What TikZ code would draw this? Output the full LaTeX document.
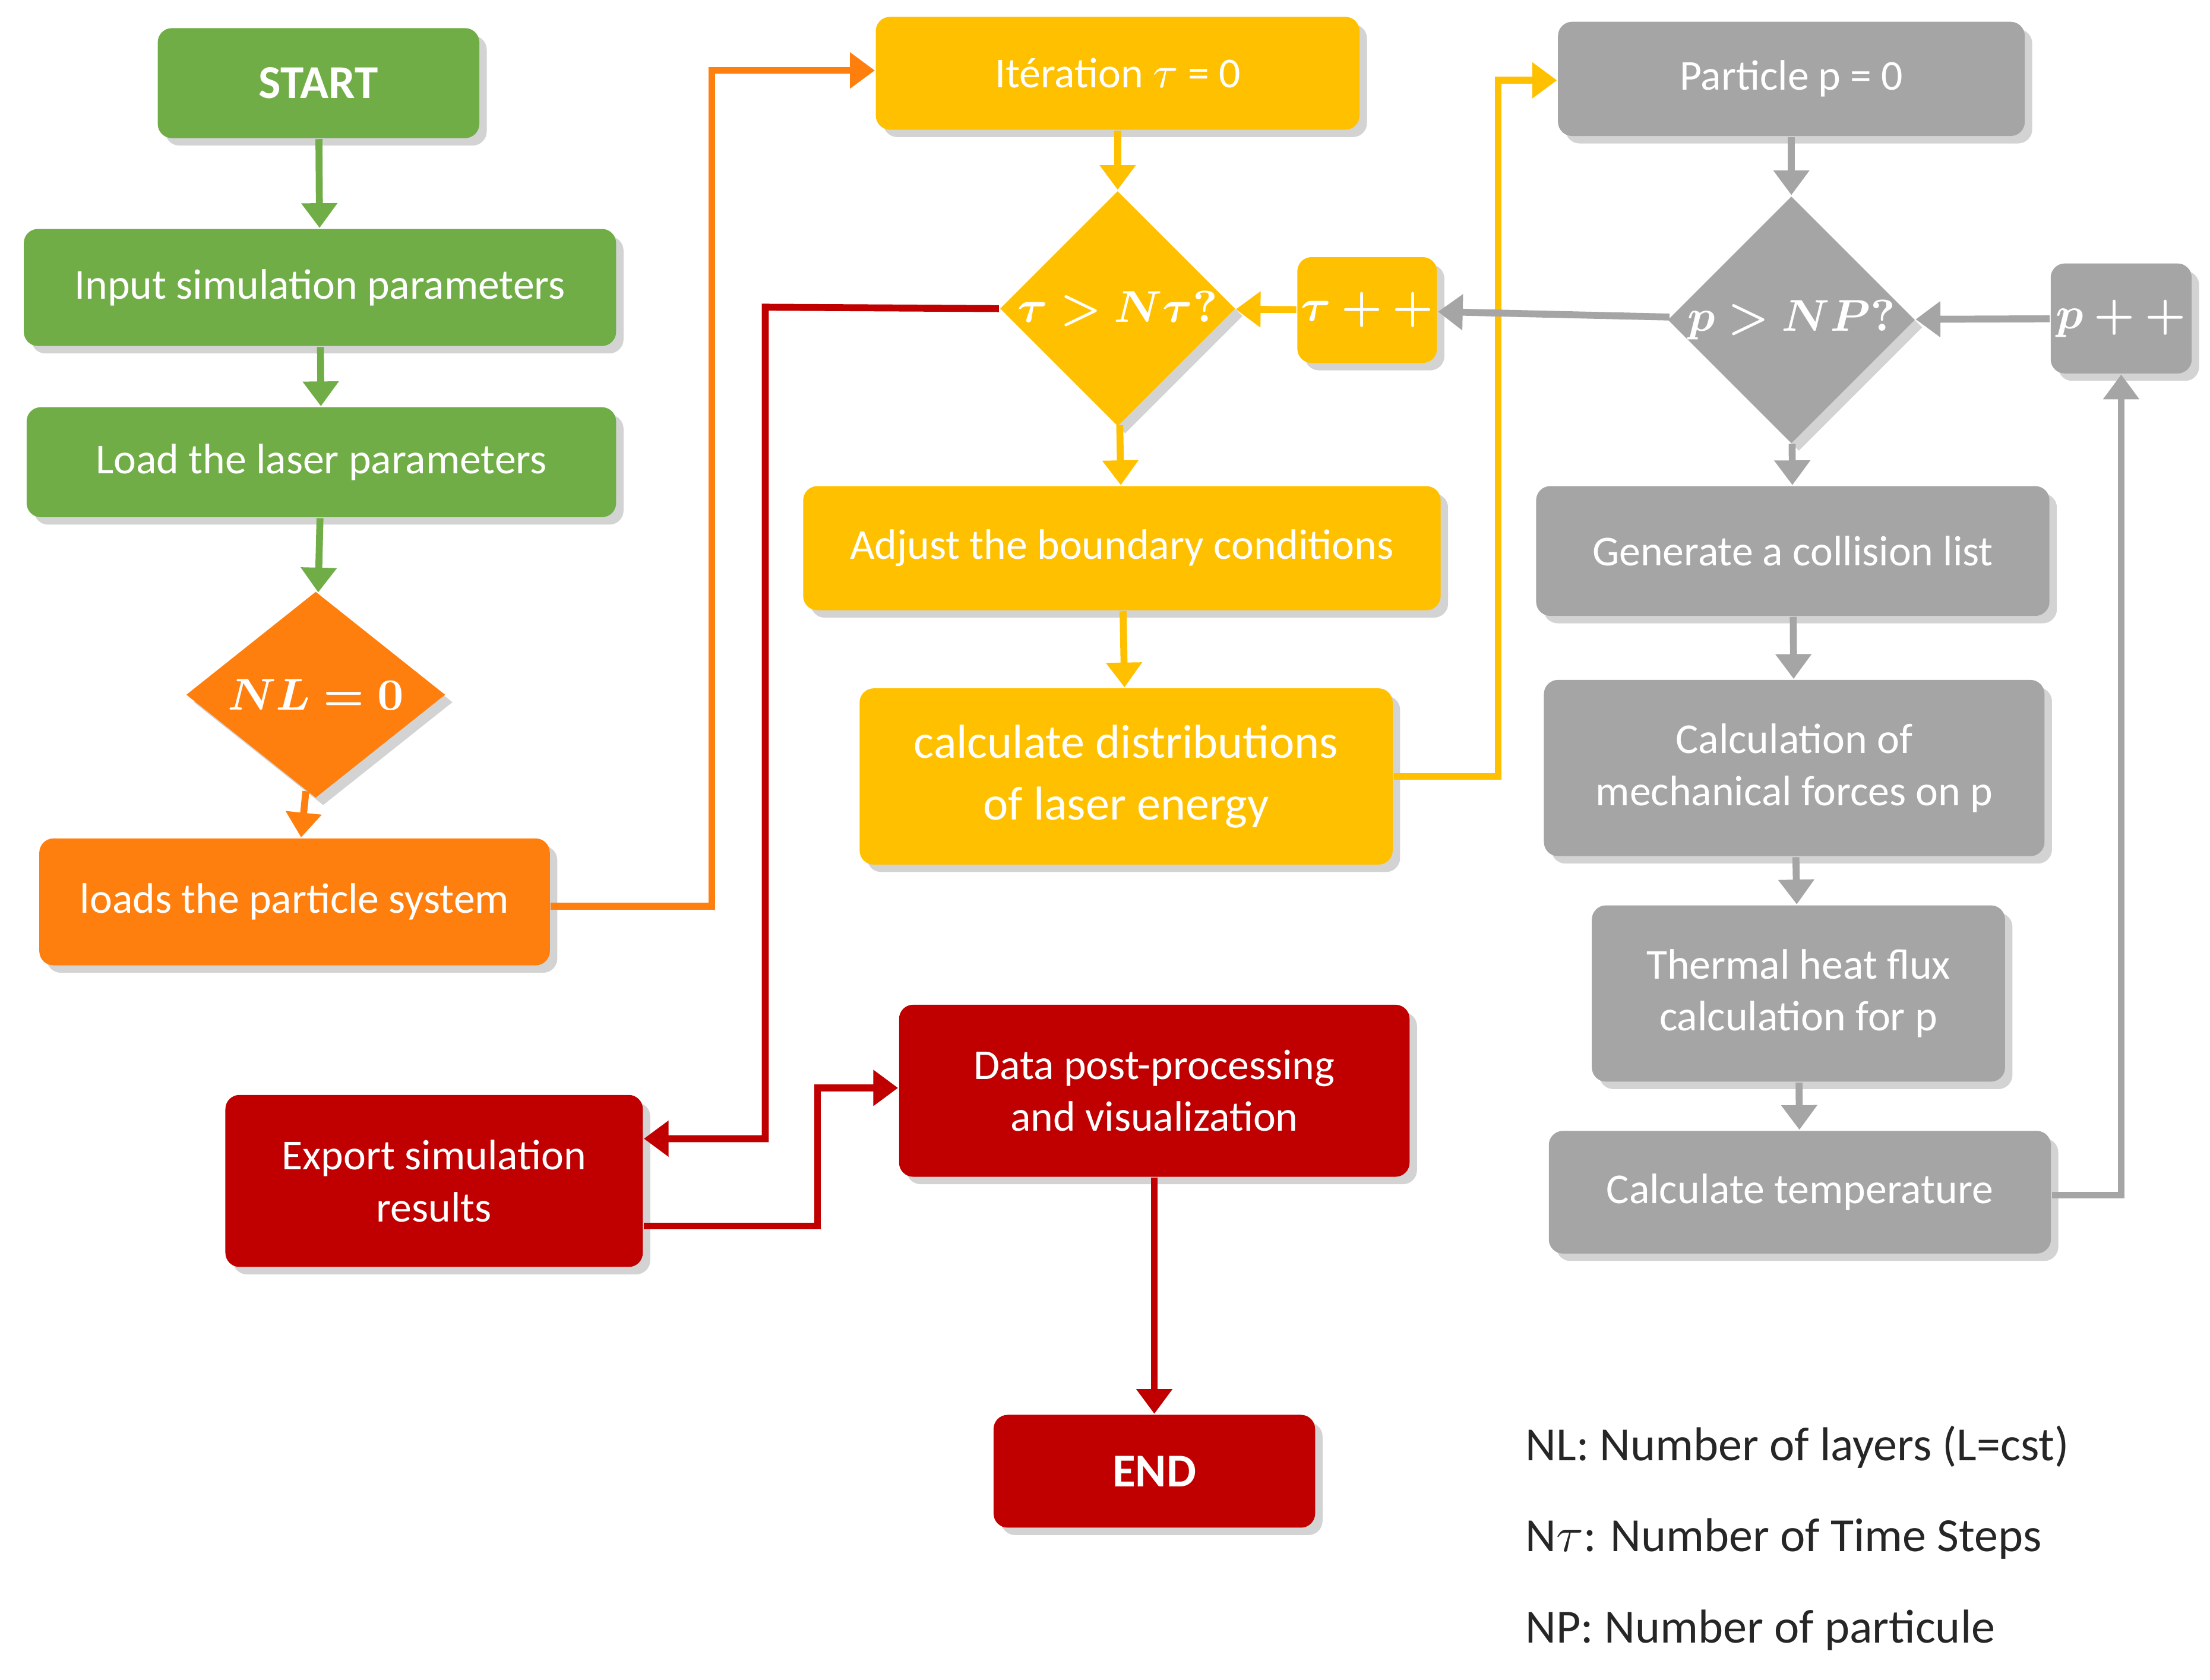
\documentclass[tikz,border=0pt]{standalone}
\usepackage{amsmath,amssymb}
\usepackage{bm}
\usepackage{fontspec}
\setmainfont{Carlito}
\usetikzlibrary{shapes.geometric,shadows,arrows.meta}
\definecolor{cg}{HTML}{70AD47}
\definecolor{co}{HTML}{FF7F0E}
\definecolor{cy}{HTML}{FFC000}
\definecolor{cgr}{HTML}{A5A5A5}
\definecolor{cr}{HTML}{C00000}
\begin{document}
\begin{tikzpicture}[x=0.01cm,y=-0.01cm,
 box/.style={rounded corners=0.1cm,text=white,align=center,inner sep=0pt,
   font=\fontsize{8.6}{10.5}\selectfont,
   drop shadow={opacity=0.35,shadow xshift=1.5pt,shadow yshift=-1.5pt}},
 dia/.style={diamond,text=white,inner sep=0pt,font=\fontsize{9}{10}\selectfont\bfseries\rmfamily,
   drop shadow={opacity=0.35,shadow xshift=1.5pt,shadow yshift=-1.5pt}},
 arr/.style={line width=1.4pt,-{Triangle[length=5pt,width=7pt]}},
 leg/.style={anchor=west,font=\fontsize{9.6}{11}\selectfont,text=black!85}]
\useasboundingbox (0,0) rectangle (1568,1192);
% green
\node[box,fill=cg,minimum width=2.28cm,minimum height=0.78cm,font=\fontsize{9.5}{11}\selectfont\bfseries] (start) at (226,59) {START};
\node[box,fill=cg,minimum width=4.2cm,minimum height=0.83cm] (input) at (227,204) {Input simulation parameters};
\node[box,fill=cg,minimum width=4.18cm,minimum height=0.78cm] (laser) at (228,328) {Load the laser parameters};
\node[dia,fill=co,minimum width=1.84cm,minimum height=1.3cm] (nl) at (224,493) {$\bm{NL=0}$};
\node[box,fill=co,minimum width=3.62cm,minimum height=0.9cm] (loads) at (209,640) {loads the particle system};
% yellow
\node[box,fill=cy,minimum width=3.43cm,minimum height=0.8cm] (iter) at (793,52) {Itération $\tau$ = 0};
\node[dia,fill=cy,minimum width=1.63cm,minimum height=1.35cm] (tdia) at (793,219) {$\bm{\tau>N\tau?}$};
\node[box,fill=cy,minimum width=0.99cm,minimum height=0.75cm] (tpp) at (970,220) {$\bm{\tau++}$};
\node[box,fill=cy,minimum width=4.52cm,minimum height=0.88cm] (adj) at (796,389) {Adjust the boundary conditions};
\node[box,fill=cy,minimum width=3.78cm,minimum height=1.25cm,font=\fontsize{9.6}{12.5}\selectfont] (dist) at (799,551) {calculate distributions\\of laser energy};
% gray
\node[box,fill=cgr,minimum width=3.31cm,minimum height=0.81cm] (part) at (1271,56) {Particle p = 0};
\node[dia,fill=cgr,minimum width=1.63cm,minimum height=1.4cm] (pdia) at (1271,227) {$\bm{p>NP?}$};
\node[box,fill=cgr,minimum width=1.0cm,minimum height=0.78cm] (ppp) at (1505,226) {$\bm{p++}$};
\node[box,fill=cgr,minimum width=3.64cm,minimum height=0.92cm] (gen) at (1272,391) {Generate a collision list};
\node[box,fill=cgr,minimum width=3.55cm,minimum height=1.25cm] (mech) at (1273,545) {Calculation of\\mechanical forces on p};
\node[box,fill=cgr,minimum width=2.93cm,minimum height=1.25cm] (therm) at (1276,705) {Thermal heat flux\\calculation for p};
\node[box,fill=cgr,minimum width=3.56cm,minimum height=0.87cm] (temp) at (1277,846) {Calculate temperature};
% red
\node[box,fill=cr,minimum width=2.96cm,minimum height=1.22cm] (exp) at (308,838) {Export simulation\\results};
\node[box,fill=cr,minimum width=3.62cm,minimum height=1.22cm] (post) at (819,774) {Data post-processing\\and visualization};
\node[box,fill=cr,minimum width=2.28cm,minimum height=0.8cm,font=\fontsize{9.5}{11}\selectfont\bfseries] (end) at (819,1044) {END};
% legend
\node[leg] (l1) at (1070,1027) {NL: Number of layers (L=cst)};
\node[leg] (l2) at (1070,1092) {N$\tau$: Number of Time Steps};
\node[leg] (l3) at (1070,1157) {NP: Number of particule};
% arrows
\draw[arr,cg] (start) -- (input);
\draw[arr,cg] (input) -- (laser);
\draw[arr,cg] (laser) -- (nl);
\draw[arr,co] (nl) -- (loads);
\draw[arr,co] (loads.east |- 0,643) -- (505,643) -- (505,50) -- (iter.west |- 0,50);
\draw[arr,cy] (iter) -- (tdia);
\draw[arr,cy] (tdia) -- (adj);
\draw[arr,cy] (adj) -- (dist);
\draw[arr,cy] (tpp) -- (tdia);
\draw[arr,cy] (dist.east |- 0,551) -- (1063,551) -- (1063,57) -- (part.west |- 0,57);
\draw[arr,cgr] (part) -- (pdia);
\draw[arr,cgr] (pdia) -- (gen);
\draw[arr,cgr] (gen) -- (mech);
\draw[arr,cgr] (mech) -- (therm);
\draw[arr,cgr] (therm) -- (temp);
\draw[arr,cgr] (pdia) -- (tpp);
\draw[arr,cgr] (ppp) -- (pdia);
\draw[arr,cgr] (temp.east |- 0,848) -- (1505,848) -- (ppp.south);
\draw[arr,cr] (tdia.west) -- (543,218) -- (543,808) -- (exp.east |- 0,808);
\draw[arr,cr] (exp.east |- 0,870) -- (580,870) -- (580,772) -- (post.west |- 0,772);
\draw[arr,cr] (post) -- (end);
\end{tikzpicture}
\end{document}
